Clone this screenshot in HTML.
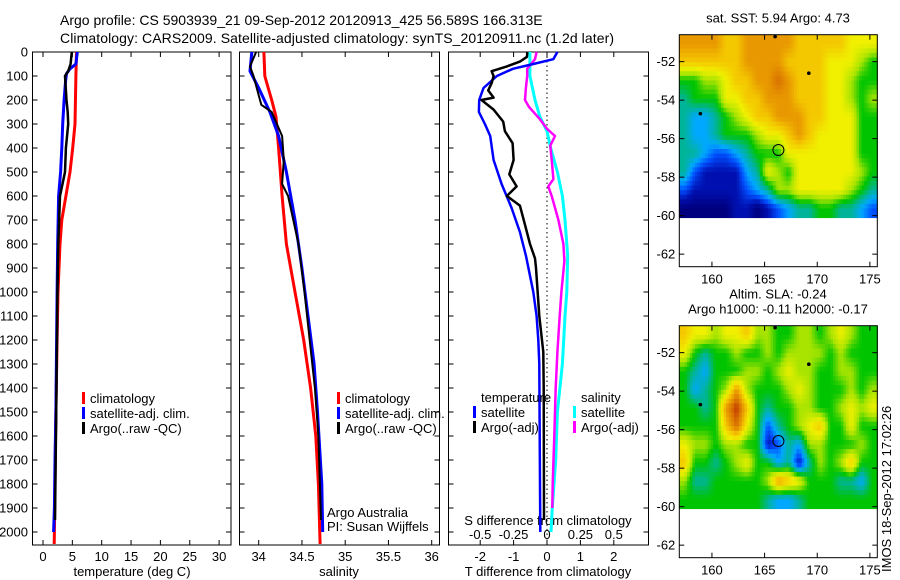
<!DOCTYPE html>
<html><head><meta charset="utf-8">
<style>
html,body{margin:0;padding:0;background:#fff;}
svg{display:block;font-family:"Liberation Sans",Arial,sans-serif;}
text{fill:#000;}
</style></head>
<body>
<svg id="fig" width="900" height="580" viewBox="0 0 900 580" xmlns="http://www.w3.org/2000/svg">
<text x="60" y="25" font-size="14">Argo profile: CS 5903939_21 09-Sep-2012 20120913_425 56.589S 166.313E</text>
<text x="60" y="43" font-size="14" textLength="554">Climatology: CARS2009. Satellite-adjusted climatology: synTS_20120911.nc (1.2d later)</text>
<g id="layer"></g>
</svg>
<script>
// ---------- DATA ----------
const depthTicks=[0,100,200,300,400,500,600,700,800,900,1000,1100,1200,1300,1400,1500,1600,1700,1800,1900,2000];
const tempTicks=[0,5,10,15,20,25,30];
const salTicks=[34,34.5,35,35.5,36];
const salTickLabels=["34","34.5","35","35.5","36"];
const tdiffTicks=[-2,-1,0,1,2];
const sdiffTicks=[-0.5,-0.25,0,0.25,0.5];
const sdiffTickLabels=["-0.5","-0.25","0","0.25","0.5"];

const tClimD=[0,100,300,400,500,600,700,800,1000,1200,1500,2000,2050];
const tClimV=[5.7,5.6,5.45,5.06,4.6,3.9,3.2,2.9,2.55,2.4,2.2,1.95,1.9];
const tSatD=[0,50,70,90,120,200,300,400,500,600,800,1000,1500,1700,1900,2000];
const tSatV=[5.85,5.6,4.6,4.0,3.85,3.6,3.35,3.2,3.0,2.65,2.5,2.4,2.2,2.05,1.95,1.8];
const tArgoD=[0,50,80,100,200,250,300,400,500,600,800,1000,1500,1950];
const tArgoV=[4.9,4.7,4.3,3.75,4.0,4.2,4.3,3.9,3.75,2.9,2.6,2.45,2.25,2.05];

const sClimD=[0,100,150,200,270,400,600,800,1000,1200,1400,1600,1800,2050];
const sClimV=[34.06,34.07,34.11,34.15,34.2,34.23,34.27,34.32,34.42,34.52,34.6,34.66,34.69,34.71];
const sSatD=[0,80,150,250,350,500,700,900,1100,1300,1500,1800,2000];
const sSatV=[33.92,33.9,34.0,34.13,34.23,34.32,34.42,34.5,34.57,34.64,34.68,34.73,34.74];
const sArgoD=[0,60,100,180,220,250,350,450,550,600,800,1000,1200,1400,1600,1950];
const sArgoV=[33.97,33.9,33.94,34.0,34.03,34.15,34.27,34.29,34.27,34.34,34.46,34.53,34.59,34.65,34.69,34.72];

const dTSatD=[0,30,50,70,100,150,200,250,300,350,450,550,650,750,850,1000,1100,1200,1300,1600,2000];
const dTSatV=[0.31,0.19,-0.41,-1.02,-1.5,-1.9,-2.03,-2.04,-1.86,-1.7,-1.6,-1.36,-1.06,-0.81,-0.63,-0.41,-0.31,-0.26,-0.23,-0.22,-0.2];
const dTArgoD=[0,20,40,60,80,100,130,160,190,200,240,290,330,380,450,510,560,600,640,720,800,860,900,1100,1250,1400,1950];
const dTArgoV=[-0.59,-0.6,-0.81,-1.2,-1.66,-1.6,-1.66,-1.76,-1.6,-1.96,-1.6,-1.31,-1.26,-1.03,-1.0,-1.13,-0.91,-1.2,-0.81,-0.66,-0.51,-0.36,-0.33,-0.23,-0.11,-0.1,-0.09];
// salinity differences (psu)
const dSArgoD=[0,30,70,100,150,200,230,280,320,350,390,450,530,560,600,700,800,870,1000,1100,1250,1400,1600,1800,1900];
const dSArgoV=[-0.078,-0.09,-0.148,-0.148,-0.158,-0.165,-0.133,-0.053,0,0.06,0.025,0.035,0.048,0.01,0.035,0.085,0.123,0.13,0.108,0.095,0.078,0.065,0.055,0.043,0.04];
const dSSatD=[0,100,200,270,330,400,500,600,700,850,1000,1100,1300,1500,1700,1900,2000];
const dSSatV=[-0.128,-0.128,-0.09,-0.053,0,0.028,0.078,0.115,0.135,0.155,0.148,0.135,0.115,0.078,0.065,0.04,0.03];

const mapLonTicks=[160,165,170,175];
const mapLatTicks=[-52,-54,-56,-58,-60,-62];
const sstGrid=[
[9,9,9,9,8,8,9,9,9,9,9,8,8,8,8,8,7,7,7],
[8,8,8,8,8,8,9,9,9,9,8,8,8,8,7,7,7,6,5],
[5,5,6,6,7,8,8,9,9,10,9,8,8,8,7,7,6,5,5],
[4,5,5,5,7,7,8,8,9,9,9,8,8,8,7,7,6,5,6],
[4,3,3,4,5,6,7,8,8,9,9,9,8,8,7,7,7,5,5],
[4,3,3,4,5,5,5,6,7,7,8,9,8,7,7,7,7,5,5],
[4,4,3,2,2,3,4,5,5,5,7,7,7,7,7,7,7,5,5],
[4,2,1,1,1,1,3,4,7,6,5,7,7,7,7,7,7,6,5],
[2,1,1,1,1,1,2,3,4,6,6,7,7,7,7,7,6,5,4],
[0,0,0,0,0,1,1,0,1,2,3,4,4,5,5,4,4,3,2]];
const slaGrid=[
[8,7,7,6,7,7,8,6,6,5,5,6,6,5,6,7,6,5,5],
[7,5,4,5,5,6,5,5,6,5,6,6,6,6,5,6,5,5,5],
[5,4,3,5,5,5,6,6,5,6,7,6,6,5,5,6,6,5,5],
[5,3,4,5,6,9,6,5,5,5,6,7,6,5,5,5,6,5,6],
[5,5,4,5,9,11,8,5,4,5,5,6,6,5,5,6,7,6,7],
[5,5,5,5,8,10,7,5,2,4,5,6,7,8,5,5,7,5,5],
[7,6,6,5,6,6,5,5,1,2,4,3,6,6,5,5,5,6,5],
[8,5,5,4,5,6,7,5,5,3,4,1,4,6,5,6,8,5,5],
[6,4,4,5,5,5,5,5,6,9,8,7,5,5,5,4,4,3,5],
[5,5,5,5,5,5,5,5,4,3,3,4,5,5,5,5,5,5,5]];
const floatLon=166.313, floatLat=-56.589;
const otherLon=[166.0,169.2,158.9], otherLat=[-50.7,-52.6,-54.7];

// ---------- DRAW ----------
const NS="http://www.w3.org/2000/svg";
const layer=document.getElementById('layer');
function mk(tag,attrs,parent){const e=document.createElementNS(NS,tag);for(const k in attrs)e.setAttribute(k,attrs[k]);(parent||layer).appendChild(e);return e;}
function txt(x,y,s,size,anchor,parent){const t=mk('text',{x:x,y:y,'font-size':size,'text-anchor':anchor||'start'},parent);t.textContent=s;return t;}

const Y0=52, YS=0.24, PT=52, PB=545;
const yD=d=>Y0+d*YS;
const panels=[
 {name:'temperature',L:32.5,R:231,x:v=>43+5.87*v},
 {name:'salinity',L:239.5,R:439.5,x:v=>258.7+86.5*(v-34)},
 {name:'difference',L:448.5,R:648.5,x:v=>547+33.4*v}
];
panels.forEach((p,i)=>{
  const g=mk('g',{});
  
  
  const r=mk('rect',{x:p.L,y:PT,width:p.R-p.L,height:PB-PT,fill:'none',stroke:'#000','stroke-width':1},g);
  
  
  depthTicks.forEach(d=>{
    mk('line',{x1:p.L,x2:p.L+5,y1:yD(d),y2:yD(d),stroke:'#000'},g);
    mk('line',{x1:p.R,x2:p.R-5,y1:yD(d),y2:yD(d),stroke:'#000'},g);
  });
});
depthTicks.forEach(d=>{const t=txt(28,yD(d)+4.5,String(d),13,'end');
  
  });
function xticks(p,vals,labels,yLab){
  vals.forEach((v,k)=>{const x=p.x(v);
    mk('line',{x1:x,x2:x,y1:PT,y2:PT+5,stroke:'#000'});
    mk('line',{x1:x,x2:x,y1:PB,y2:PB-5,stroke:'#000'});
    const t=txt(x,yLab,labels[k],13,'middle');
    
    });
}
xticks(panels[0],tempTicks,tempTicks.map(String),561);
xticks(panels[1],salTicks,salTickLabels,561);
xticks(panels[2],tdiffTicks,tdiffTicks.map(String),561);
sdiffTicks.forEach((v,k)=>{const t=txt(panels[2].x(v*4),539,sdiffTickLabels[k],13,'middle');
  
  });
let t;
t=txt(132,576,'temperature (deg C)',13,'middle');
t=txt(339,576,'salinity',13,'middle');
t=txt(548,576,'T difference from climatology',13,'middle');
t=txt(548,525,'S difference from climatology',13,'middle');
const z=mk('line',{x1:panels[2].x(0),x2:panels[2].x(0),y1:PT,y2:PB,stroke:'#000','stroke-dasharray':'1.5,3'});



function series(p,D,V,col,w,name,scale){
  let pts=[];
  for(let k=0;k<D.length;k++){pts.push(p.x(V[k]*(scale||1)).toFixed(1)+','+yD(D[k]).toFixed(1));}
  const l=mk('polyline',{points:pts.join(' '),fill:'none',stroke:col,'stroke-width':w,'stroke-linejoin':'round'});
  
  
}
series(panels[0],tClimD,tClimV,'#f00',3,'temp-climatology-line');
series(panels[0],tSatD,tSatV,'#00f',3,'temp-satellite-line');
series(panels[0],tArgoD,tArgoV,'#000',2.5,'temp-argo-line');
series(panels[1],sClimD,sClimV,'#f00',3,'sal-climatology-line');
series(panels[1],sSatD,sSatV,'#00f',3,'sal-satellite-line');
series(panels[1],sArgoD,sArgoV,'#000',2,'sal-argo-line');
series(panels[2],dSSatD,dSSatV,'#0ff',3,'s-diff-satellite-line',4);
series(panels[2],dSArgoD,dSArgoV,'#f0f',2.5,'s-diff-argo-line',4);
series(panels[2],dTSatD,dTSatV,'#00f',2.5,'t-diff-satellite-line');
series(panels[2],dTArgoD,dTArgoV,'#000',2.5,'t-diff-argo-line');

function legend(x,y,col,label,name){
  const g=mk('g',{});
  
  
  mk('rect',{x:x,y:y-11,width:3,height:12,fill:col},g);
  txt(x+8,y,label,13,'start',g);
}
legend(82,403,'#f00','climatology','legend-climatology');
legend(82,418,'#00f','satellite-adj. clim.','legend-satellite');
legend(82,433,'#000','Argo(..raw -QC)','legend-argo');
legend(337,403,'#f00','climatology','legend-sal-climatology');
legend(337,418,'#00f','satellite-adj. clim.','legend-sal-satellite');
legend(337,433,'#000','Argo(..raw -QC)','legend-sal-argo');
t=txt(481,402,'temperature',13);
t=txt(581,402,'salinity',13);
legend(473,417,'#00f','satellite','legend-t-satellite');
legend(473,432,'#000','Argo(-adj)','legend-t-argo');
legend(573,417,'#0ff','satellite','legend-s-satellite');
legend(573,432,'#f0f','Argo(-adj)','legend-s-argo');
t=txt(327,517,'Argo Australia',13);
t=txt(327,531,'PI: Susan Wijffels',13);

// ---------- MAPS ----------
const pal=[[0,0,127],[0,16,176],[0,80,255],[0,168,255],[0,180,154],[0,196,0],[168,228,0],[240,240,0],[244,200,0],[232,152,0],[216,112,0],[192,48,0],[160,0,0]];
function colorOf(v){
  v=Math.max(0,Math.min(pal.length-1,v));
  const i=Math.min(pal.length-2,Math.floor(v)),f=v-i;
  const c=pal[i].map((a,k)=>Math.round(a+(pal[i+1][k]-a)*f));
  return 'rgb('+c.join(',')+')';
}
function sample(grid,r,c){ // bilinear in cell-centre coordinates
  const R=grid.length,C=grid[0].length;
  r=Math.max(0,Math.min(R-1,r));c=Math.max(0,Math.min(C-1,c));
  const r0=Math.min(R-2,Math.floor(r)),c0=Math.min(C-2,Math.floor(c));
  const fr=r-r0,fc=c-c0;
  return grid[r0][c0]*(1-fr)*(1-fc)+grid[r0][c0+1]*(1-fr)*fc+grid[r0+1][c0]*fr*(1-fc)+grid[r0+1][c0+1]*fr*fc;
}
const mL=679.3,mR=877.3,lonA=156.9,lonS=10.53,latS=19.25;
function drawMap(top,grid,name,title){
  const g=mk('g',{});
  
  
  const mx=lon=>mL+(lon-lonA)*lonS;
  const my=lat=>top+(-50.6-lat)*latS;
  const bottom=top+232;
  const SUB=4;
  const nC=grid[0].length*SUB,nR=grid.length*SUB;
  const cw=(mR-mL)/nC, ch=(my(-60.1)-top)/nR;
  for(let r=0;r<nR;r++)for(let c=0;c<nC;c++){
    const v=sample(grid,(r+0.5)/SUB-0.5,(c+0.5)/SUB-0.5);
    const cell=mk('rect',{x:(mL+c*cw).toFixed(2),y:(top+r*ch).toFixed(2),width:(cw+0.5).toFixed(2),height:(ch+0.5).toFixed(2),fill:colorOf(v)},g);
    
    
  }
  mk('rect',{x:mL,y:top,width:mR-mL,height:bottom-top,fill:'none',stroke:'#000'},g);
  mapLonTicks.forEach(lo=>{const x=mx(lo);
    mk('line',{x1:x,x2:x,y1:top,y2:top+5,stroke:'#000'},g);
    mk('line',{x1:x,x2:x,y1:bottom,y2:bottom-5,stroke:'#000'},g);
    txt(x,bottom+17,String(lo),13,'middle',g);});
  mapLatTicks.forEach(la=>{const y=my(la);
    mk('line',{x1:mL,x2:mL+5,y1:y,y2:y,stroke:'#000'},g);
    mk('line',{x1:mR,x2:mR-5,y1:y,y2:y,stroke:'#000'},g);
    txt(mL-4,y+4.5,String(la),13,'end',g);});
  const c=mk('circle',{cx:mx(floatLon),cy:my(floatLat),r:5.5,fill:'none',stroke:'#000','stroke-width':1},g);
  
  
  otherLon.forEach((lo,k)=>{
    const d=mk('circle',{cx:mx(lo),cy:my(otherLat[k]),r:1.8,fill:'#000'},g);
    
    
  });
  title.forEach((s,k)=>{const tt=txt(778,top-12-(title.length-1-k)*15,s,13,'middle',g);
    
    });
}
drawMap(34.7,sstGrid,'sst-map',['sat. SST: 5.94  Argo: 4.73']);
drawMap(325.7,slaGrid,'sla-map',['Altim. SLA: -0.24','Argo h1000: -0.11 h2000: -0.17']);
t=txt(0,0,'IMOS 18-Sep-2012 17:02:26',13,'start');
t.setAttribute('transform','translate(891,572) rotate(-90)');


</script>
</body></html>
